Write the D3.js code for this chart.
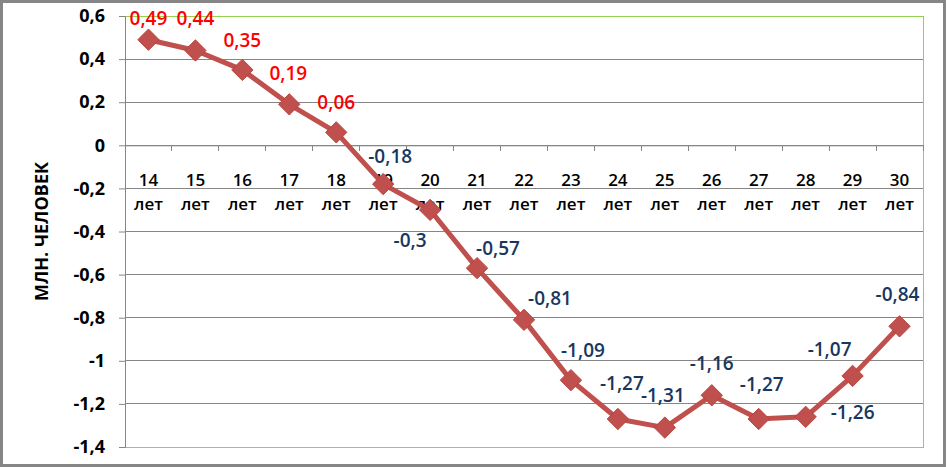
<!DOCTYPE html>
<html><head><meta charset="utf-8">
<script src="https://cdn.jsdelivr.net/npm/d3@7"></script>
<style>body{margin:0;background:#fff;} svg{display:block;}</style>
</head><body>
<script>
const categories = ["14","15","16","17","18","19","20","21","22","23","24","25","26","27","28","29","30"];
const categoryUnit = "лет";
const values = [0.49,0.44,0.35,0.19,0.06,-0.18,-0.3,-0.57,-0.81,-1.09,-1.27,-1.31,-1.16,-1.27,-1.26,-1.07,-0.84];
const yTicks = [0.6,0.4,0.2,0,-0.2,-0.4,-0.6,-0.8,-1,-1.2,-1.4];
const yTitle = "МЛН. ЧЕЛОВЕК";
// label placement offsets (dx, dy) from marker to label centre
const labelOffsets = [[0,-21],[0,-32],[0,-30],[-1,-31],[0,-30],[7,-28],[-20,30],[21,-20],[26,-22],[12,-30],[4,-36],[-2,-32],[0,-32],[3,-35],[47,-4],[-23,-27],[-2,-32]];

const W = 947, H = 467;
const m = {l:125, r:24, t:16, b:20};
const font = "'Open Sans', sans-serif";
const svg = d3.select("body").append("svg").attr("width", W).attr("height", H);

svg.append("rect").attr("x",1.5).attr("y",1.5).attr("width",943).attr("height",464)
  .attr("fill","#fff").attr("stroke","#868686").attr("stroke-width",3);

const x = d3.scaleBand().domain(categories).range([m.l, W - m.r]).padding(0);
const y = d3.scaleLinear().domain([-1.4, 0.6]).range([H - m.b, m.t]);
const fmt = v => String(v).replace(".", ",");

// gridlines
svg.append("g").selectAll("line").data(yTicks.filter(t => t !== 0.6 && t !== -1.4)).join("line")
  .attr("x1", m.l).attr("x2", W - m.r).attr("y1", d => y(d)).attr("y2", d => y(d))
  .attr("stroke", "#868686").attr("stroke-width", 1).attr("shape-rendering","crispEdges");

// plot border (green)
svg.append("path")
  .attr("d", `M${m.l},${y(0.6)}H${W-m.r}V${y(-1.4)}H${m.l}`)
  .attr("fill","none").attr("stroke","#92D050").attr("stroke-width",1).attr("shape-rendering","crispEdges");

// y axis
const yAxis = svg.append("g").attr("transform", `translate(${m.l},0)`)
  .call(d3.axisLeft(y).tickValues(yTicks).tickSize(6).tickPadding(14).tickFormat(fmt));
yAxis.select(".domain").attr("stroke","#868686");
yAxis.selectAll(".tick line").attr("stroke","#868686");
yAxis.selectAll("text").attr("font-family", font).attr("font-size", 18).attr("font-weight", "bold").attr("fill","#000");

// x axis at zero
const xAxis = svg.append("g").attr("transform", `translate(0,${y(0)})`)
  .call(d3.axisBottom(x).tickSize(0).tickFormat(""));
xAxis.select(".domain").attr("stroke","#868686");
svg.append("g").selectAll("line").data(categories).join("line")
  .attr("x1", d => x(d) + x.bandwidth()).attr("x2", d => x(d) + x.bandwidth())
  .attr("y1", y(0)).attr("y2", y(0) + 6).attr("stroke","#868686").attr("shape-rendering","crispEdges");

const xl = svg.append("g").selectAll("text").data(categories).join("text")
  .attr("x", d => x(d) + x.bandwidth()/2).attr("text-anchor","middle")
  .attr("font-family", font).attr("font-size", 17).attr("font-weight",600).attr("fill","#000");
xl.append("tspan").attr("x", d => x(d) + x.bandwidth()/2).attr("y", y(0) + 41).text(d => d);
xl.append("tspan").attr("x", d => x(d) + x.bandwidth()/2).attr("y", y(0) + 65).text(categoryUnit);

// y title
svg.append("text").attr("transform", `translate(48,${(y(0.6)+y(-1.4))/2}) rotate(-90)`)
  .attr("text-anchor","middle").attr("font-family", font).attr("font-size",18).attr("font-weight","bold")
  .attr("fill","#000").text(yTitle);

// line
const pts = categories.map((c,i) => [x(c) + x.bandwidth()/2, y(values[i])]);
svg.append("path").attr("d", d3.line()(pts)).attr("fill","none")
  .attr("stroke","#C0504D").attr("stroke-width",5).attr("stroke-linejoin","round");

svg.append("g").selectAll("path").data(pts).join("path")
  .attr("d", d3.symbol().type(d3.symbolDiamond2).size(290)())
  .attr("transform", d => `translate(${d[0]},${d[1]})`)
  .attr("fill","#C0504D").attr("stroke","#B8463F").attr("stroke-width",1).attr("stroke-linejoin","round");

// data labels
svg.append("g").selectAll("text").data(values).join("text")
  .attr("x", (d,i) => pts[i][0] + labelOffsets[i][0])
  .attr("y", (d,i) => pts[i][1] + labelOffsets[i][1])
  .attr("dy","0.35em").attr("text-anchor","middle")
  .attr("font-family", font).attr("font-size", 19).attr("font-weight", 600)
  .attr("fill", d => d >= 0 ? "#FF0000" : "#17375E")
  .text(fmt);
</script>
</body></html>
